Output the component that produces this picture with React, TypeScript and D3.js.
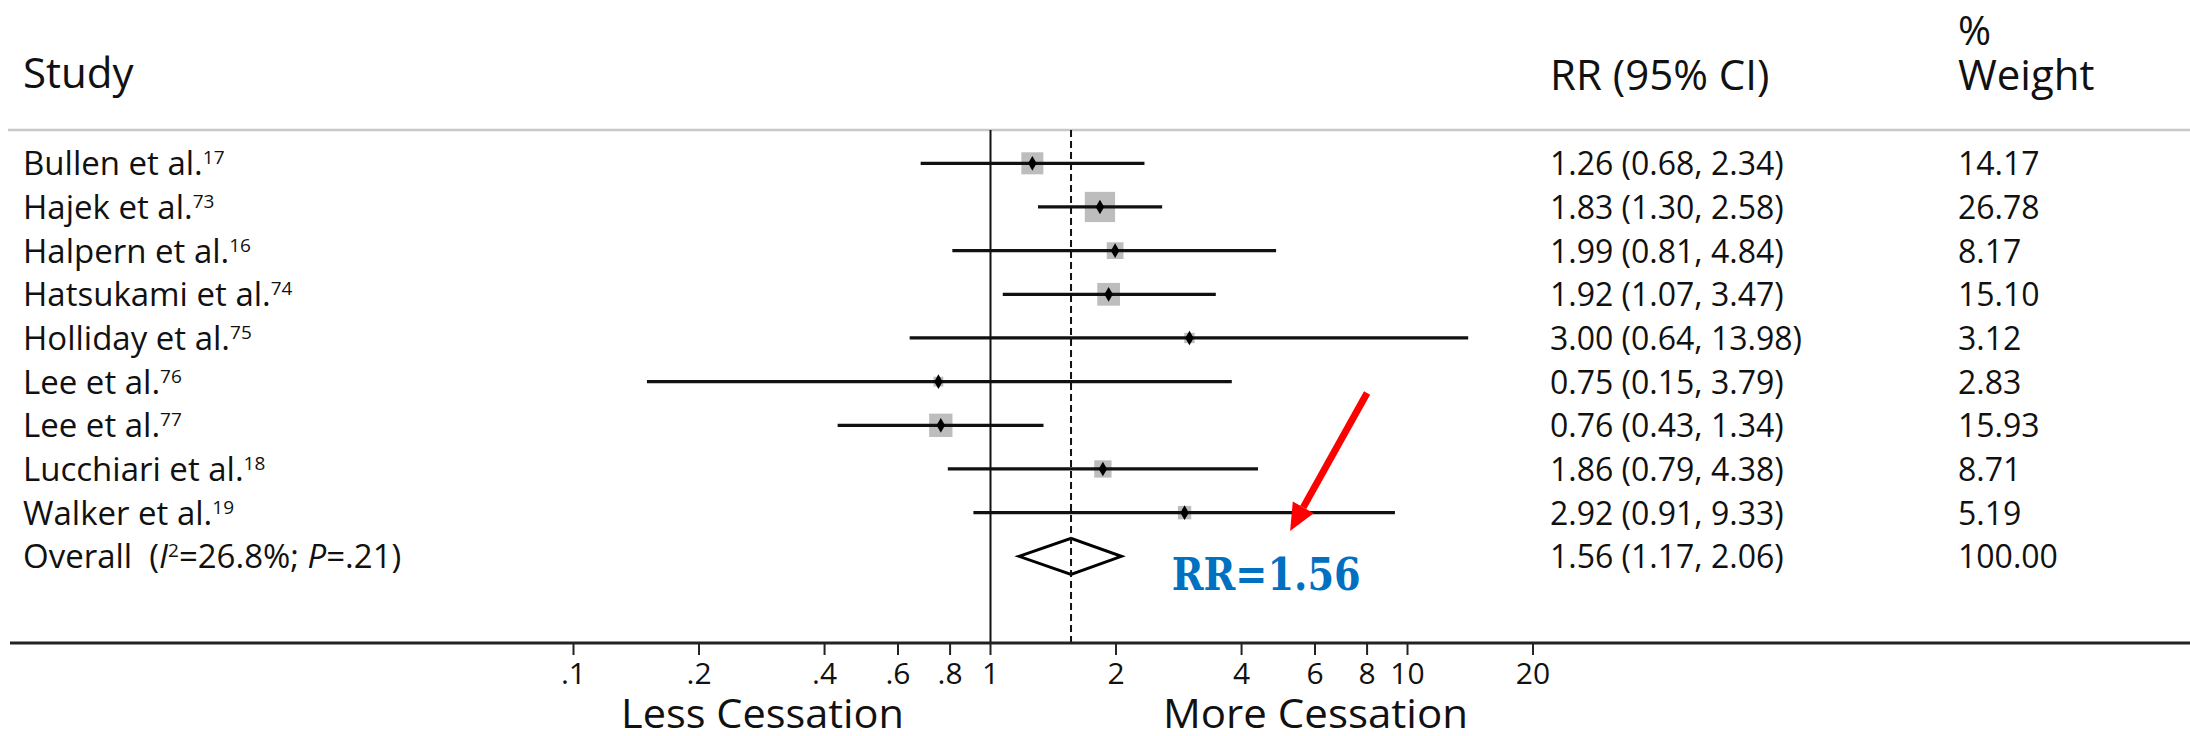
import React from 'react';
import * as d3 from 'd3';

const studies = ['Bullen et al.', 'Hajek et al.', 'Halpern et al.', 'Hatsukami et al.', 'Holliday et al.', 'Lee et al.', 'Lee et al.', 'Lucchiari et al.', 'Walker et al.'];
const refs = ['17', '73', '16', '74', '75', '76', '77', '18', '19'];
const rr = [1.26, 1.83, 1.99, 1.92, 3.0, 0.75, 0.76, 1.86, 2.92];
const lower = [0.68, 1.3, 0.81, 1.07, 0.64, 0.15, 0.43, 0.79, 0.91];
const upper = [2.34, 2.58, 4.84, 3.47, 13.98, 3.79, 1.34, 4.38, 9.33];
const weights = [14.17, 26.78, 8.17, 15.1, 3.12, 2.83, 15.93, 8.71, 5.19];

const overallRR = 1.56;
const overallLo = 1.17;
const overallHi = 2.06;
const overallWeight = 100;

const tickValues = [0.1, 0.2, 0.4, 0.6, 0.8, 1, 2, 4, 6, 8, 10, 20];
const tickLabels = ['.1', '.2', '.4', '.6', '.8', '1', '2', '4', '6', '8', '10', '20'];

const W = 2190;
const H = 736;
const FONT = '"Open Sans", sans-serif';
const INK = '#111';

const fmt = (v: number) => v.toFixed(2);

export default function App() {
  // log scale for RR, one decade ~417px
  const x = d3.scaleLog().domain([0.1, 10]).range([573.5, 1407.5]);
  // rows 0..8 studies, 9 overall
  const y = d3.scaleLinear().domain([0, 9]).range([163.3, 556.3]);
  const boxSide = d3.scaleSqrt().domain([0, 100]).range([0, 58.5]);
  const marker = d3.symbol().type(d3.symbolDiamond).size(62)();

  const axisY = 643;
  const topY = 130;
  const colRR = 1550;
  const colW = 1958;

  // annotation positioned in data space
  const arrowFrom: [number, number] = [x(8.0), y(5.26)];
  const arrowTip: [number, number] = [x(5.23), y(8.42)];
  const dx = arrowTip[0] - arrowFrom[0];
  const dy = arrowTip[1] - arrowFrom[1];
  const len = Math.sqrt(dx * dx + dy * dy);
  const ux = dx / len, uy = dy / len;
  const base: [number, number] = [arrowTip[0] - 27 * ux, arrowTip[1] - 27 * uy];
  const head = [
    arrowTip,
    [base[0] + 12 * uy, base[1] - 12 * ux],
    [base[0] - 12 * uy, base[1] + 12 * ux],
  ];

  const yo = y(9);
  const diamond = [
    [x(overallLo), yo],
    [x(overallRR), yo - 18],
    [x(overallHi), yo],
    [x(overallRR), yo + 18],
  ];

  return (
    <div style={{ position: 'absolute', left: 0, top: 0 }}>
      <svg width={W} height={H} style={{ display: 'block', background: '#fff' }} fontFamily={FONT}>
        {/* headers */}
        <text x={23} y={88} fontSize={42} fill={INK}>Study</text>
        <text x={colRR} y={90} fontSize={42} fill={INK}>RR (95% CI)</text>
        <text x={colW} y={45} fontSize={40} fill={INK}>%</text>
        <text x={colW} y={90} fontSize={42} fill={INK}>Weight</text>
        <line x1={8} x2={W} y1={topY} y2={topY} stroke="#c8c8c8" strokeWidth={2.5} />

        {/* weight boxes */}
        {rr.map((v, i) => {
          const s = boxSide(weights[i]);
          return <rect key={'b' + i} x={x(v) - s / 2} y={y(i) - s / 2} width={s} height={s} fill="#bdbdbd" />;
        })}

        {/* CI lines */}
        {rr.map((v, i) => (
          <line key={'ci' + i} x1={x(lower[i])} x2={x(upper[i])} y1={y(i)} y2={y(i)} stroke={INK} strokeWidth={3.3} />
        ))}

        {/* point estimates */}
        {rr.map((v, i) => (
          <path key={'m' + i} d={marker!} transform={`translate(${x(v)},${y(i)})`} fill="#000" />
        ))}

        {/* overall diamond */}
        <polygon points={diamond.map(p => p.join(',')).join(' ')} fill="#fff" stroke="#000" strokeWidth={3} />

        {/* reference lines */}
        <line x1={x(1)} x2={x(1)} y1={topY} y2={axisY} stroke={INK} strokeWidth={2} />
        <line x1={x(overallRR)} x2={x(overallRR)} y1={topY} y2={axisY} stroke={INK} strokeWidth={2} strokeDasharray="7 4" />

        {/* study labels */}
        {studies.map((s, i) => (
          <text key={'s' + i} x={23} y={y(i) + 12} fontSize={33} fill={INK}>
            {s}
            <tspan fontSize={19} dy={-11}>{refs[i]}</tspan>
          </text>
        ))}
        <text x={23} y={yo + 12} fontSize={33} fill={INK} style={{ whiteSpace: 'pre' }}>
          {'Overall  ('}
          <tspan fontStyle="italic">I</tspan>
          <tspan fontSize={19} dy={-11}>2</tspan>
          <tspan dy={11}>{'=26.8%; '}</tspan>
          <tspan fontStyle="italic">P</tspan>
          {'=.21)'}
        </text>

        {/* RR column */}
        {rr.map((v, i) => (
          <text key={'r' + i} x={colRR} y={y(i) + 12} fontSize={32} fill={INK}>
            {`${fmt(v)} (${fmt(lower[i])}, ${fmt(upper[i])})`}
          </text>
        ))}
        <text x={colRR} y={yo + 12} fontSize={32} fill={INK}>
          {`${fmt(overallRR)} (${fmt(overallLo)}, ${fmt(overallHi)})`}
        </text>

        {/* weight column */}
        {weights.map((w, i) => (
          <text key={'w' + i} x={colW} y={y(i) + 12} fontSize={32} fill={INK}>{fmt(w)}</text>
        ))}
        <text x={colW} y={yo + 12} fontSize={32} fill={INK}>{fmt(overallWeight)}</text>

        {/* x axis */}
        <line x1={10} x2={W} y1={axisY} y2={axisY} stroke="#222" strokeWidth={3} />
        {tickValues.map((t, i) => (
          <g key={'t' + i} transform={`translate(${x(t)},${axisY})`}>
            <line y1={0} y2={12} stroke="#222" strokeWidth={2} />
            <text y={41} textAnchor="middle" fontSize={30} fill={INK}>{tickLabels[i]}</text>
          </g>
        ))}
        <text x={621} y={728} fontSize={41} fill={INK} textLength={283} lengthAdjust="spacingAndGlyphs">Less Cessation</text>
        <text x={1163} y={728} fontSize={41} fill={INK} textLength={305} lengthAdjust="spacingAndGlyphs">More Cessation</text>

        {/* annotation */}
        <line x1={arrowFrom[0]} y1={arrowFrom[1]} x2={base[0]} y2={base[1]} stroke="#f00" strokeWidth={7} />
        <polygon points={head.map(p => p.join(',')).join(' ')} fill="#f00" />
        <text x={x(2.72)} y={y(9.77)} fontSize={44} fontWeight="bold" fontFamily='"DejaVu Serif", serif'
          fill="#0070c0" textLength={189} lengthAdjust="spacingAndGlyphs">RR=1.56</text>
      </svg>
    </div>
  );
}
